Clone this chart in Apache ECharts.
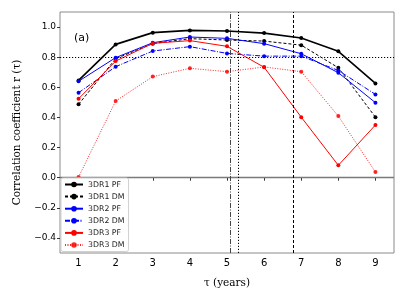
<!DOCTYPE html>
<html><head><meta charset="utf-8">
<script src="https://cdn.jsdelivr.net/npm/echarts@6/dist/echarts.min.js"></script>
<style>html,body{margin:0;padding:0;background:#fff}#c{width:407px;height:296px}</style>
</head><body><div id="c"></div>
<script>
const tau = [1,2,3,4,5,6,7,8,9];
const r1PF = [0.646,0.885,0.963,0.978,0.974,0.960,0.927,0.839,0.626];
const r1DM = [0.487,0.79,0.89,0.923,0.914,0.907,0.880,0.730,0.402];
const r2PF = [0.640,0.797,0.896,0.934,0.925,0.890,0.823,0.697,0.498];
const r2DM = [0.564,0.737,0.841,0.870,0.825,0.807,0.807,0.712,0.553];
const r3PF = [0.524,0.774,0.892,0.910,0.872,0.733,0.402,0.082,0.350];
const r3DM = [0.004,0.509,0.671,0.726,0.704,0.735,0.704,0.409,0.037];
const yTicks = [-0.4,-0.2,0.0,0.2,0.4,0.6,0.8,1.0];
const vLines = [5.09,5.30,6.79];
const names = ['3DR1 PF','3DR1 DM','3DR2 PF','3DR2 DM','3DR3 PF','3DR3 DM'];

const pair = a => a.map((v,i)=>[tau[i],v]);
function s(name, data, color, type, width, opacity){
  return {name, type:'line', data:pair(data), symbol:'circle', symbolSize:4,
    itemStyle:{color, opacity:opacity||1},
    lineStyle:{color, type, width, opacity:opacity||1}, z:3, animation:false};
}
const chart = echarts.init(document.getElementById('c'));
chart.setOption({
  animation:false,
  grid:{left:60,right:13,top:12,bottom:43,show:true,borderColor:'#8a8a8a',borderWidth:1,backgroundColor:'transparent'},
  xAxis:{type:'value',min:0.5,max:9.5,
    axisLine:{show:false},splitLine:{show:false},
    axisTick:{show:true,customValues:tau,length:3,lineStyle:{color:'#333'}},
    axisLabel:{customValues:tau,color:'#000',fontSize:10,fontFamily:'DejaVu Sans',margin:5},
    name:'τ (years)',nameLocation:'middle',nameGap:25,
    nameTextStyle:{fontFamily:'DejaVu Serif',fontSize:10.5,color:'#000'}},
  yAxis:{type:'value',min:-0.5,max:1.1,
    axisLine:{show:false},splitLine:{show:false},
    axisTick:{show:true,customValues:yTicks,length:3,lineStyle:{color:'#333'}},
    axisLabel:{customValues:yTicks,color:'#000',fontSize:9,fontFamily:'DejaVu Sans',margin:4,
      formatter:v=>v.toFixed(1).replace('-','\u2212')},
    name:'Correlation coefficient r (τ)',nameLocation:'middle',nameGap:33,nameRotate:90,
    nameTextStyle:{fontFamily:'DejaVu Serif',fontSize:10.5,color:'#000'}},
  legend:{data:names,orient:'vertical',left:61,top:178,itemWidth:18,itemHeight:7,itemGap:4.1,
    backgroundColor:'#fff',borderColor:'#d0d0d0',borderWidth:1,borderRadius:2,padding:[2.5,4,2.5,3],
    textStyle:{fontSize:7.8,fontFamily:'DejaVu Sans',color:'#222'},z:10},
  graphic:[{type:'text',left:74,top:33,style:{text:'(a)',font:'11px DejaVu Sans',fill:'#000'}}],
  series:[
    {type:'line',data:[],silent:true,z:1,
      markLine:{silent:true,symbol:'none',label:{show:false},animation:false,
        data:[
          {yAxis:0,lineStyle:{color:'#7a7a7a',type:'solid',width:1.3}},
          {yAxis:0.8,lineStyle:{color:'#000',type:[1.2,1.8],width:1}},
          {xAxis:vLines[0],lineStyle:{color:'#444',type:[5,1.5,1,1.5],width:1}},
          {xAxis:vLines[1],lineStyle:{color:'#000',type:[1.2,1.8],width:1}},
          {xAxis:vLines[2],lineStyle:{color:'#000',type:[3,2],width:1}}
        ]}},
    s(names[0],r1PF,'#000000','solid',1.6),
    s(names[1],r1DM,'#000000',[3,2],1),
    s(names[2],r2PF,'#0000ff','solid',1),
    s(names[3],r2DM,'#0000ff',[5,1.5,1,1.5],1),
    s(names[4],r3PF,'#ff0000','solid',1),
    s(names[5],r3DM,'#ff0000',[1,1.5],1,0.85)
  ]
});
</script></body></html>
